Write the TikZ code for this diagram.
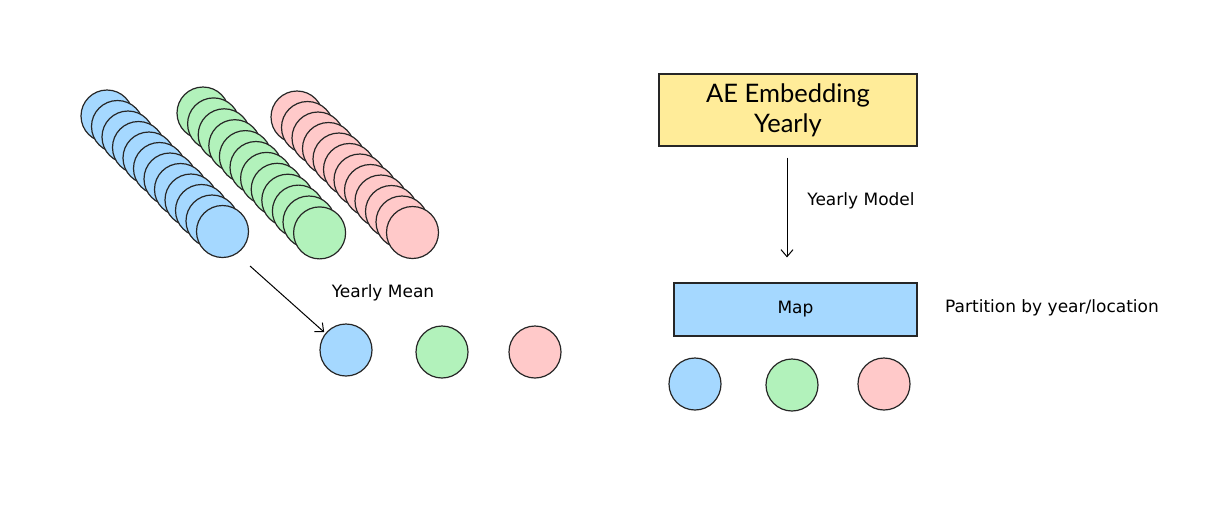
\documentclass[tikz,border=0pt]{standalone}
\usepackage{fontspec}
\usetikzlibrary{arrows.meta}
\setmainfont{Lato}
\newfontfamily\hand{DejaVu Sans}
\begin{document}
\begin{tikzpicture}[x=1pt,y=-1pt,
  dot/.style={circle,draw=black!85,line width=1.2pt,minimum size=52pt,inner sep=0pt},
  lbl/.style={font=\hand\fontsize{17}{20}\selectfont},
  arr/.style={-{Straight Barb[length=7pt,width=12pt]},line width=1pt}]
\useasboundingbox (0,0) rectangle (1226,512);
\definecolor{cb}{HTML}{A5D8FF}\definecolor{cg}{HTML}{B2F2BB}
\definecolor{cp}{HTML}{FFC9C9}\definecolor{cy}{HTML}{FFEC99}
\foreach \i in {0,...,11}{
  \node[dot,fill=cb] (b\i) at ({107+\i*10.5},{116+\i*10.5}) {};
  \node[dot,fill=cg] (g\i) at ({203+\i*10.6},{113+\i*10.9}) {};
  \node[dot,fill=cp] (p\i) at ({297+\i*10.5},{117+\i*10.5}) {};
}
\node[dot,fill=cb] (mb) at (346,350) {};
\node[dot,fill=cg] (mg) at (442,352) {};
\node[dot,fill=cp] (mp) at (535,352) {};
\coordinate (s) at (250,266);
\draw[arr] (s) -- ([shift={(-3pt,-1pt)}]mb.north west);
\node[lbl] (ym) at (383,293) {Yearly Mean};
\node[draw=black!85,line width=1.2pt,fill=cy,minimum width=258pt,minimum height=72pt,align=center,font=\fontsize{25.5}{30}\selectfont] (ae) at (788,110) {AE Embedding\\Yearly};
\node[draw=black!85,line width=1.2pt,fill=cb,minimum width=243pt,minimum height=53pt,font=\hand\fontsize{17}{20}\selectfont] (map) at (795.5,309.5) {Map};
\draw[arr] ([xshift=-1pt,yshift=-11pt]ae.south) -- ([xshift=-8.5pt,yshift=25pt]map.north);
\node[lbl] (ymod) at (861,201) {Yearly Model};
\node[lbl] (part) at (1052,308) {Partition by year/location};
\node[dot,fill=cb] (rb) at (695,384) {};
\node[dot,fill=cg] (rg) at (792,385) {};
\node[dot,fill=cp] (rp) at (884,384) {};
\end{tikzpicture}
\end{document}
